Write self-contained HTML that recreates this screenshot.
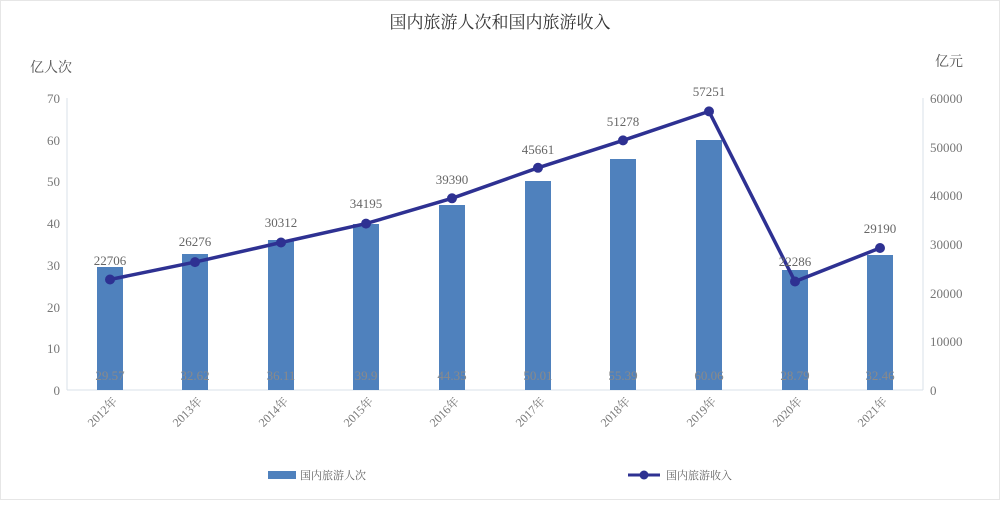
<!DOCTYPE html>
<html><head><meta charset="utf-8"><style>
html,body{margin:0;padding:0;background:#fff;}
svg text{font-family:"Liberation Serif","Noto Serif CJK SC",serif;}
</style></head><body>
<svg width="1000" height="500" viewBox="0 0 1000 500" xmlns="http://www.w3.org/2000/svg">
<rect x="0.5" y="0.5" width="999" height="499" fill="#fff" stroke="#e6e6e6"/>
<text x="500" y="28" text-anchor="middle" font-size="17" fill="#333" font-family="Noto Sans CJK SC, sans-serif">国内旅游人次和国内旅游收入</text>
<text x="30" y="72" font-size="14" fill="#555" font-family="Noto Sans CJK SC, sans-serif">亿人次</text>
<text x="935" y="66" font-size="14" fill="#555" font-family="Noto Sans CJK SC, sans-serif">亿元</text>
<g stroke="#d8e2e8" stroke-width="1">
<line x1="67" y1="98" x2="67" y2="390"/>
<line x1="923" y1="98" x2="923" y2="390"/>
<line x1="67" y1="390" x2="923" y2="390"/>
</g>
<g font-size="13" fill="#777" text-anchor="end">
<text x="60" y="395">0</text><text x="60" y="353">10</text><text x="60" y="312">20</text><text x="60" y="270">30</text><text x="60" y="228">40</text><text x="60" y="186">50</text><text x="60" y="145">60</text><text x="60" y="103">70</text>
</g>
<g font-size="13" fill="#777">
<text x="930" y="395">0</text><text x="930" y="346">10000</text><text x="930" y="298">20000</text><text x="930" y="249">30000</text><text x="930" y="200">40000</text><text x="930" y="152">50000</text><text x="930" y="103">60000</text>
</g>
<g fill="#4f81bd">
<rect x="97" y="267" width="26" height="123"/>
<rect x="182" y="254" width="26" height="136"/>
<rect x="268" y="240" width="26" height="150"/>
<rect x="353" y="224" width="26" height="166"/>
<rect x="439" y="205" width="26" height="185"/>
<rect x="525" y="181" width="26" height="209"/>
<rect x="610" y="159" width="26" height="231"/>
<rect x="696" y="140" width="26" height="250"/>
<rect x="782" y="270" width="26" height="120"/>
<rect x="867" y="255" width="26" height="135"/>
</g>
<g font-size="13" fill="#8a8a8a" text-anchor="middle">
<text x="110" y="380">29.57</text><text x="195" y="380">32.62</text><text x="281" y="380">36.11</text><text x="366" y="380">39.9</text><text x="452" y="380">44.35</text><text x="538" y="380">50.01</text><text x="623" y="380">55.39</text><text x="709" y="380">60.06</text><text x="795" y="380">28.79</text><text x="880" y="380">32.46</text>
</g>
<polyline fill="none" stroke="#2e3192" stroke-width="3.5" points="110,279.5 195,262.1 281,242.5 366,223.6 452,198.3 538,167.8 623,140.4 709,111.4 795,281.5 880,248"/>
<g fill="#2e3192">
<circle cx="110" cy="279.5" r="5"/><circle cx="195" cy="262.1" r="5"/><circle cx="281" cy="242.5" r="5"/><circle cx="366" cy="223.6" r="5"/><circle cx="452" cy="198.3" r="5"/><circle cx="538" cy="167.8" r="5"/><circle cx="623" cy="140.4" r="5"/><circle cx="709" cy="111.4" r="5"/><circle cx="795" cy="281.5" r="5"/><circle cx="880" cy="248" r="5"/>
</g>
<g font-size="13" fill="#666" text-anchor="middle">
<text x="110" y="265">22706</text><text x="195" y="246">26276</text><text x="281" y="227">30312</text><text x="366" y="208">34195</text><text x="452" y="184">39390</text><text x="538" y="154">45661</text><text x="623" y="126">51278</text><text x="709" y="96">57251</text><text x="795" y="266">22286</text><text x="880" y="233">29190</text>
</g>
<g font-size="12" fill="#777" text-anchor="end">
<text transform="translate(118,402) rotate(-45)">2012年</text>
<text transform="translate(203,402) rotate(-45)">2013年</text>
<text transform="translate(289,402) rotate(-45)">2014年</text>
<text transform="translate(374,402) rotate(-45)">2015年</text>
<text transform="translate(460,402) rotate(-45)">2016年</text>
<text transform="translate(546,402) rotate(-45)">2017年</text>
<text transform="translate(631,402) rotate(-45)">2018年</text>
<text transform="translate(717,402) rotate(-45)">2019年</text>
<text transform="translate(803,402) rotate(-45)">2020年</text>
<text transform="translate(888,402) rotate(-45)">2021年</text>
</g>
<rect x="268" y="471" width="28" height="8" fill="#4f81bd"/>
<text x="300" y="479" font-size="11" fill="#666" font-family="Noto Sans CJK SC, sans-serif">国内旅游人次</text>
<line x1="628" y1="475" x2="660" y2="475" stroke="#2e3192" stroke-width="3"/>
<circle cx="644" cy="475" r="4.5" fill="#2e3192"/>
<text x="666" y="479" font-size="11" fill="#666" font-family="Noto Sans CJK SC, sans-serif">国内旅游收入</text>
</svg>
</body></html>
